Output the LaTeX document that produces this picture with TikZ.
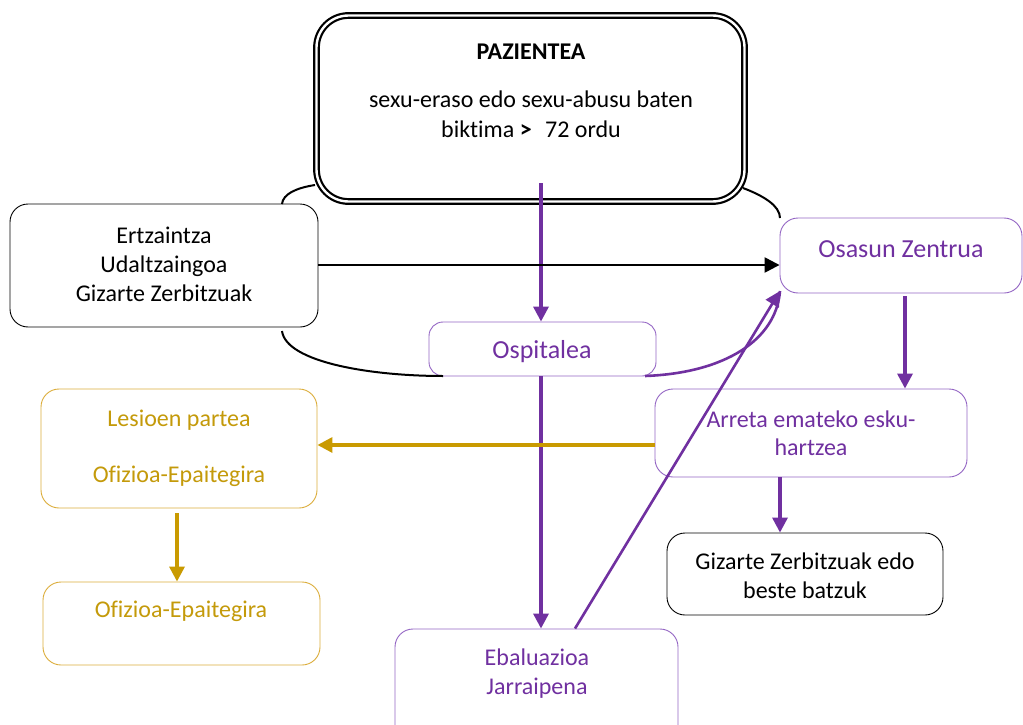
\documentclass[tikz,border=0pt]{standalone}
\usepackage{fontspec}
\setmainfont[RawFeature=-liga]{Carlito}
\usetikzlibrary{arrows.meta}
\definecolor{purp}{HTML}{7030A0}
\definecolor{purpb}{HTML}{9466C4}
\definecolor{gold}{HTML}{C99A00}
\definecolor{goldb}{HTML}{DCAE3C}
\definecolor{goldt}{HTML}{C49A0A}
\newcommand\myfs{\fontsize{24}{29}\selectfont}
\newcommand\mybig{\fontsize{26}{30}\selectfont}
\tikzset{
  box/.style={draw, rounded corners=18pt, line width=0.9pt, inner sep=0pt},
  bbox/.style={box, draw=black},
  pbox/.style={box, draw=purpb},
  gbox/.style={box, draw=goldb},
  txt/.style={align=center, inner sep=0pt, font=\myfs},
  tip/.style={-{Triangle[length=15pt 0 0,width=15pt 0 0]}},
  parrow/.style={draw=purp, line width=3.3pt, tip},
  pline/.style={draw=purp, line width=2.6pt},
  garrow/.style={draw=gold, line width=3.3pt, tip},
  barrow/.style={draw=black, line width=2.4pt, tip},
  bcurve/.style={draw=black, line width=2pt},
}
\begin{document}
\begin{tikzpicture}[x=1pt,y=-1pt]
\useasboundingbox (0,0) rectangle (1023,725);
\fill[white] (0,0) rectangle (1023,725);

% boxes
\node[draw, double, line width=2.2pt, double distance=2.4pt, rounded corners=32pt,
      minimum width=428pt, minimum height=186pt, inner sep=0pt] (paz) at (530.5,108.5) {};
\node[bbox, minimum width=308pt, minimum height=123pt] (ertz) at (164,265.5) {};
\node[pbox, minimum width=242pt, minimum height=75pt] (osa) at (901,255.5) {};
\node[pbox, minimum width=227pt, minimum height=54pt, rounded corners=14pt] (osp) at (542.5,349) {};
\node[pbox, minimum width=312pt, minimum height=88pt] (arr) at (811,433) {};
\node[bbox, minimum width=276pt, minimum height=82pt] (giz) at (805,574) {};
\node[gbox, minimum width=276pt, minimum height=119pt] (les) at (179,448.5) {};
\node[gbox, minimum width=277pt, minimum height=83pt] (ofi) at (181.5,623.5) {};
\node[pbox, minimum width=283pt, minimum height=120pt] (eba) at (536.5,689) {};

% texts
\node[txt, font=\myfs\bfseries] (pazA) at (531,52) {PAZIENTEA};
\node[txt, font=\fontsize{24}{30}\selectfont] (pazB) at (531,114) {sexu-eraso edo sexu-abusu baten\\biktima \textbf{>}\,\, 72 ordu};
\node[txt] (ertzT) at (164,264) {Ertzaintza\\Udaltzaingoa\\Gizarte Zerbitzuak};
\node[txt, font=\mybig, text=purp] (osaT) at (901,249) {Osasun Zentrua};
\node[txt, font=\mybig, text=purp] (ospT) at (542,352) {Ospitalea};
\node[txt, text=purp, font=\fontsize{24}{28}\selectfont] (arrT) at (811,433) {Arreta emateko esku-\\hartzea};
\node[txt] (gizT) at (805,576) {Gizarte Zerbitzuak edo\\beste batzuk};
\node[txt, text=goldt, font=\fontsize{24}{56}\selectfont] (lesT) at (179,448) {Lesioen partea\\Ofizioa-Epaitegira};
\node[txt, text=goldt] (ofiT) at (181,611) {Ofizioa-Epaitegira};
\node[txt, text=purp] (ebaT) at (537,674) {Ebaluazioa\\Jarraipena};

% coordinates for connector ends
\coordinate (pazS) at (541,183);
\coordinate (osaTip) at (780,291);
\coordinate (ospR) at (645,376);
\coordinate (ospL) at (443,376);
\coordinate (pazL) at (315,185);
\coordinate (ertzTop) at (282,204);
\coordinate (pazR) at (743,188);
\coordinate (osaTop) at (780,218);
\coordinate (ertzBot) at (282,331);

% black curves
\draw[bcurve] (pazL) .. controls (296,188) and (283,194) .. (ertzTop);
\draw[bcurve] (pazR) .. controls (764,196) and (780,206) .. (osaTop);
\draw[bcurve] (ertzBot) .. controls (286,362) and (370,376) .. (ospL);

% arrows
\draw[parrow] (pazS) -- (pazS |- osp.north);
\draw[parrow] (osp.south -| pazS) -- (eba.north -| pazS);
\draw[barrow] (ertz.east |- 0,265) -- (osa.west |- 0,265);
\draw[parrow] (905,296) -- (arr.north -| 905,0);
\draw[parrow] (arr.south -| 780,0) -- (giz.north -| 780,0);
\draw[garrow] (arr.west |- 0,445) -- (les.east |- 0,445);
\draw[garrow] (177,513) -- (ofi.north -| 177,0);
\draw[pline] (ospR) .. controls (725,373) and (776,340) .. (osaTip);
\draw[pline, tip] (eba.north -| 575,0) -- (osaTip);
\end{tikzpicture}
\end{document}
